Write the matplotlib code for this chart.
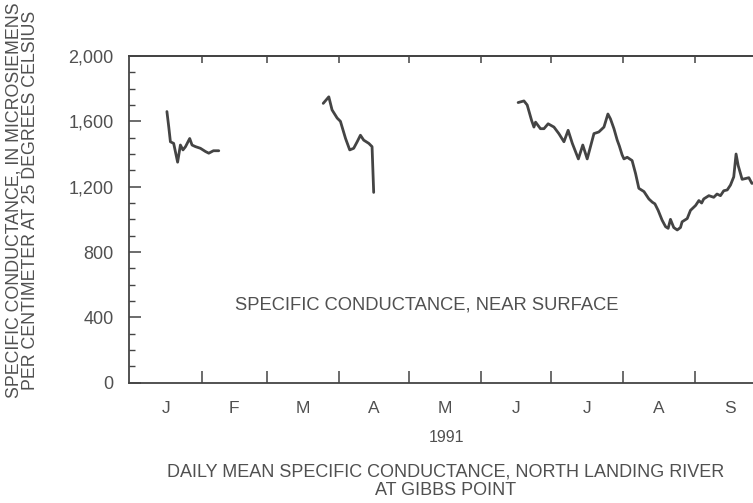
import matplotlib
matplotlib.use("Agg")
import matplotlib.pyplot as plt
from matplotlib.ticker import MultipleLocator, FixedLocator, NullFormatter, FuncFormatter

plt.rcParams['font.family'] = ['Liberation Sans', 'DejaVu Sans']

# ---- data (day of year 1991, 0 = Jan 1) ----
seg1_days = [16.0, 16.8, 17.5, 18.9, 20.6, 21.8, 22.9, 24.0, 25.8, 26.8, 28.3, 30.4, 32.6, 34.0, 36.0, 38.3]
seg1_vals = [1660, 1565, 1475, 1465, 1350, 1455, 1425, 1445, 1495, 1455, 1445, 1435, 1415, 1405, 1420, 1420]

seg2_days = [83.2, 85.6, 87.0, 89.2, 90.6, 92.8, 94.6, 96.3, 97.8, 99.2, 100.6, 102.8, 104.2, 104.9]
seg2_vals = [1710, 1750, 1670, 1620, 1600, 1495, 1425, 1435, 1475, 1515, 1485, 1465, 1445, 1165]

seg3_days = [167.0, 169.5, 170.9, 172.8, 173.8, 174.5, 176.6, 178.1, 179.9, 182.4,
             184.5, 186.7, 188.5, 190.3, 192.9, 194.8, 196.7, 199.6, 201.7, 203.9,
             205.6, 206.7, 208.2, 209.6, 210.5, 211.7, 212.5, 213.9, 216.0, 217.5,
             218.9, 221.1, 223.2, 224.7, 225.8, 227.2, 228.9, 230.4, 231.5, 232.5,
             233.9, 235.4, 236.8, 237.5, 239.7, 241.1, 243.3, 244.7, 245.9, 246.8,
             249.0, 251.1, 252.5, 254.0, 255.4, 256.9, 258.3, 259.7, 260.7, 261.6,
             263.3, 264.8, 266.2, 267.5, 269.5]
seg3_vals = [1715, 1725, 1700, 1605, 1565, 1595, 1555, 1555, 1585, 1565,
             1525, 1475, 1545, 1465, 1370, 1455, 1370, 1525, 1535, 1565,
             1645, 1615, 1555, 1485, 1450, 1395, 1370, 1380, 1360, 1280,
             1190, 1170, 1125, 1105, 1095, 1055, 995, 955, 945, 1000,
             950, 935, 950, 985, 1005, 1055, 1085, 1115, 1100, 1125,
             1145, 1135, 1155, 1145, 1175, 1180, 1210, 1260, 1400, 1330,
             1245, 1250, 1255, 1220, 1230]

month_starts = [0, 31, 59, 90, 120, 151, 181, 212, 243, 273]
month_labels = ['J', 'F', 'M', 'A', 'M', 'J', 'J', 'A', 'S']

ylabel = "SPECIFIC CONDUCTANCE, IN MICROSIEMENS\nPER CENTIMETER AT 25 DEGREES CELSIUS"
inner_label = "SPECIFIC CONDUCTANCE, NEAR SURFACE"
year_label = "1991"
caption_lines = ["DAILY MEAN SPECIFIC CONDUCTANCE, NORTH LANDING RIVER", "AT GIBBS POINT"]

TXT = '#505050'
LINE = '#444444'
SPINE = '#444444'

W, H = 753, 503
fig = plt.figure(figsize=(W / 100, H / 100), dpi=100)
x0, x1, y0, y1 = 129, 767, 56, 382.7
ax = fig.add_axes([x0 / W, 1 - y1 / H, (x1 - x0) / W, (y1 - y0) / H])

for d, v in [(seg1_days, seg1_vals), (seg2_days, seg2_vals), (seg3_days, seg3_vals)]:
    ax.plot(d, v, color=LINE, lw=2.0, solid_joinstyle='round', solid_capstyle='round')

ax.set_xlim(-0.3, 274)
ax.set_ylim(0, 2000)

for s in ax.spines.values():
    s.set_color(SPINE)
    s.set_linewidth(1.3)

# y axis ticks
ax.yaxis.set_major_locator(MultipleLocator(400))
ax.yaxis.set_minor_locator(MultipleLocator(100))
ax.yaxis.set_major_formatter(FuncFormatter(lambda v, p: f"{int(v):,}"))
ax.tick_params(axis='y', which='major', direction='in', length=8.5, width=1.1,
               left=True, right=True, colors=SPINE, labelcolor=TXT, labelsize=13, pad=11)
ax.tick_params(axis='y', which='minor', direction='in', length=4.3, width=1.0,
               left=True, right=True, colors=SPINE)

# x axis: month boundaries as major ticks, labels at month centres
centres = [(month_starts[i] + month_starts[i + 1]) / 2 for i in range(len(month_labels))]
ax.xaxis.set_major_locator(FixedLocator(month_starts[1:-1]))
ax.xaxis.set_major_formatter(NullFormatter())
ax.set_xticks(centres, month_labels, minor=True)
ax.tick_params(axis='x', which='major', direction='in', length=8.5, width=1.1,
               bottom=True, top=False, colors=SPINE)
ax.tick_params(axis='x', which='minor', length=0, labelsize=12.5, labelcolor=TXT, pad=13)

sec = ax.secondary_xaxis('top')
sec.set_xticks(month_starts[1:-1])
sec.xaxis.set_major_formatter(NullFormatter())
sec.tick_params(axis='x', which='major', direction='in', length=5, width=1.1, colors=SPINE)
sec.spines['top'].set_visible(True)
sec.spines['top'].set_color(SPINE)
sec.spines['top'].set_linewidth(1.3)

ax.text(0.467, 0.238, inner_label, transform=ax.transAxes, ha='center', va='center',
        fontsize=13.2, color=TXT)

fig.text(22 / W, 1 - 200 / H, ylabel, rotation=90, ha='center', va='center',
         fontsize=12.8, color=TXT, linespacing=0.95, multialignment='center')
fig.text(447 / W, 1 - 438 / H, year_label, ha='center', va='center', fontsize=11.5, color=TXT)
fig.text(446 / W, 1 - 472 / H, caption_lines[0], ha='center', va='center',
         fontsize=13.0, color=TXT)
fig.text(446 / W, 1 - 490.5 / H, caption_lines[1], ha='center', va='center',
         fontsize=13.0, color=TXT)

fig.savefig('out.png', dpi=100, facecolor='white')
